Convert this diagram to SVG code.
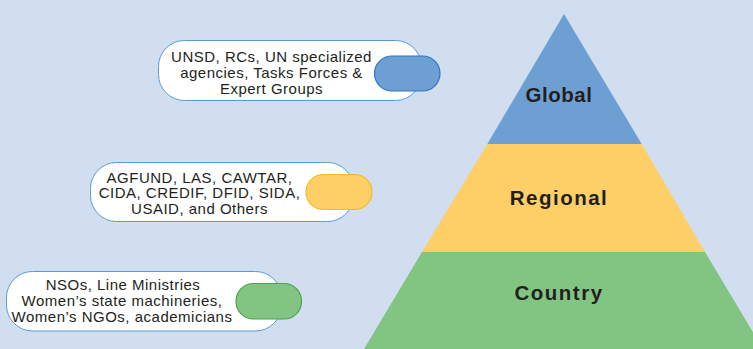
<svg xmlns="http://www.w3.org/2000/svg" width="753" height="349" viewBox="0 0 753 349">
<style>
.bg{fill:#d0deef}
.box{fill:#ffffff;stroke:#5b9bd5;stroke-width:1}
.lbl{font-family:"Liberation Sans",Arial,sans-serif;font-size:15px;letter-spacing:0.5px;fill:#231f20;text-anchor:middle}
.tier{font-family:"Liberation Sans",Arial,sans-serif;font-size:20.5px;font-weight:bold;fill:#231f20;text-anchor:middle}
</style>
<rect class="bg" x="0" y="0" width="753" height="349"/>
<g id="pyramid">
<g id="global">
<polygon points="564,14 487.3,144 641.7,144" fill="#6d9fd3"/>
<text class="tier" x="559" y="102" letter-spacing="0.5">Global</text>
</g>
<g id="regional">
<polygon points="487.3,144 641.7,144 705,252 422,252" fill="#fdcf66"/>
<text class="tier" x="559" y="205" letter-spacing="1.5">Regional</text>
</g>
<g id="country">
<polygon points="422,252 705,252 763,349 364,349" fill="#82c482"/>
<text class="tier" x="559" y="300" letter-spacing="1.5">Country</text>
</g>
</g>
<g id="label-global">
<rect class="box" x="158.5" y="40.5" width="263" height="60" rx="26" ry="26"/>
<rect x="374.5" y="56" width="65.5" height="35" rx="17.5" ry="17.5" fill="#6d9fd3" stroke="#2f78c4" stroke-width="1.2"/>
<text class="lbl" x="271.5" y="62">UNSD, RCs, UN specialized</text>
<text class="lbl" x="271.5" y="78">agencies, Tasks Forces &amp;</text>
<text class="lbl" x="271.5" y="94">Expert Groups</text>
</g>
<g id="label-regional">
<rect class="box" x="90.5" y="162.5" width="263" height="59" rx="26" ry="26"/>
<rect x="306" y="174.5" width="66" height="35" rx="17.5" ry="17.5" fill="#fdcf66" stroke="#f7b91f" stroke-width="1.2"/>
<text class="lbl" x="199.5" y="182.5">AGFUND, LAS, CAWTAR,</text>
<text class="lbl" x="199.5" y="198">CIDA, CREDIF, DFID, SIDA,</text>
<text class="lbl" x="199.5" y="214">USAID, and Others</text>
</g>
<g id="label-country">
<rect class="box" x="6.5" y="271.5" width="275" height="59.5" rx="26" ry="26"/>
<rect x="236" y="283.5" width="65.5" height="35.5" rx="17.5" ry="17.5" fill="#82c482" stroke="#4aa44a" stroke-width="1.2"/>
<text class="lbl" x="123" y="289.5">NSOs, Line Ministries</text>
<text class="lbl" x="122" y="305.5">Women’s state machineries,</text>
<text class="lbl" x="122" y="321.5">Women’s NGOs, academicians</text>
</g>
<g id="connectors"/>
</svg>
